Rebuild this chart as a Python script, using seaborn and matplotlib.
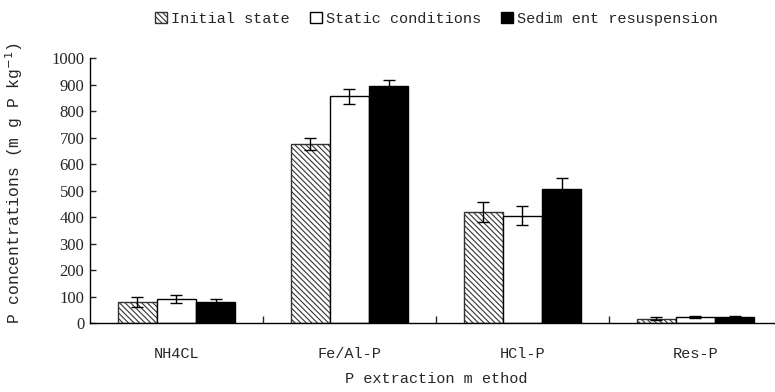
import matplotlib
matplotlib.use("Agg")
import matplotlib.pyplot as plt
import seaborn as sns
import pandas as pd
import numpy as np
from matplotlib.patches import Patch

categories = ["NH4CL", "Fe/Al-P", "HCl-P", "Res-P"]
series = ["Initial state", "Static conditions", "Sedim ent resuspension"]
initial = [80, 675, 420, 17]
static = [90, 855, 405, 22]
resusp = [80, 895, 505, 22]
initial_err = [20, 22, 37, 5]
static_err = [15, 27, 35, 4]
resusp_err = [10, 22, 42, 5]

rows = []
for s, vals in zip(series, [initial, static, resusp]):
    for c, v in zip(categories, vals):
        rows.append({"method": c, "series": s, "value": v})
df = pd.DataFrame(rows)

sns.set_style("white")
plt.rcParams["font.family"] = ["Liberation Mono", "DejaVu Sans"]
plt.rcParams["hatch.linewidth"] = 0.8

fig = plt.figure(figsize=(7.75, 3.92), dpi=100)
ax = fig.add_axes([0.116, 0.176, 0.893, 0.676])

HATCH = "\\" * 6
palette = {"Initial state": "white", "Static conditions": "white", "Sedim ent resuspension": "black"}
sns.barplot(data=df, x="method", y="value", hue="series", order=categories,
            hue_order=series, palette=palette, errorbar=None, width=0.68,
            edgecolor="black", linewidth=1.0, ax=ax, legend=False)

errs = [initial_err, static_err, resusp_err]
vals_all = [initial, static, resusp]
bar_conts = list(ax.containers)
for i, cont in enumerate(bar_conts):
    for j, bar in enumerate(cont.patches):
        if i == 0:
            bar.set_hatch(HATCH)
            bar.set_edgecolor("#333333")
        xc = bar.get_x() + bar.get_width() / 2
        ax.errorbar(xc, vals_all[i][j], yerr=errs[i][j], fmt="none",
                    ecolor="black", elinewidth=1.0, capsize=4, capthick=1.0, zorder=5)

ax.set_xlim(-0.5, 3.5)
ax.set_ylim(0, 1000)
ax.set_yticks(np.arange(0, 1001, 100))
ax.set_xticks(np.arange(0.5, 3.5, 1.0), minor=False)
ax.set_xticks(range(4), minor=True)
ax.set_xticklabels([""] * 3)
ax.set_xticklabels(categories, minor=True)
ax.tick_params(axis="x", which="major", direction="in", length=5, width=1, bottom=True)
ax.tick_params(axis="x", which="minor", length=0, pad=17, labelsize=11)
ax.tick_params(axis="y", direction="in", length=4, width=1, left=True, labelsize=12, pad=4)
for lab in ax.get_yticklabels():
    lab.set_family(["Liberation Serif"])
for sp in ["top", "right"]:
    ax.spines[sp].set_visible(False)
for sp in ["left", "bottom"]:
    ax.spines[sp].set_color("black")
    ax.spines[sp].set_linewidth(1.0)

ax.set_xlabel("P extraction m ethod", fontsize=11, labelpad=8)
ax.set_ylabel("P concentrations (m g P kg$^{-1}$)", fontsize=11.8, labelpad=14)
ax.yaxis.set_label_coords(-0.094, 0.53)

handles = [Patch(facecolor="white", edgecolor="#333333", hatch=HATCH),
           Patch(facecolor="white", edgecolor="black"),
           Patch(facecolor="black", edgecolor="black")]
fig.legend(handles, series, loc="center", bbox_to_anchor=(0.563, 0.952), ncol=3,
           frameon=False, fontsize=11, handlelength=0.8, handleheight=0.8,
           handletextpad=0.25, columnspacing=1.3)

fig.savefig("out.png", dpi=100)
